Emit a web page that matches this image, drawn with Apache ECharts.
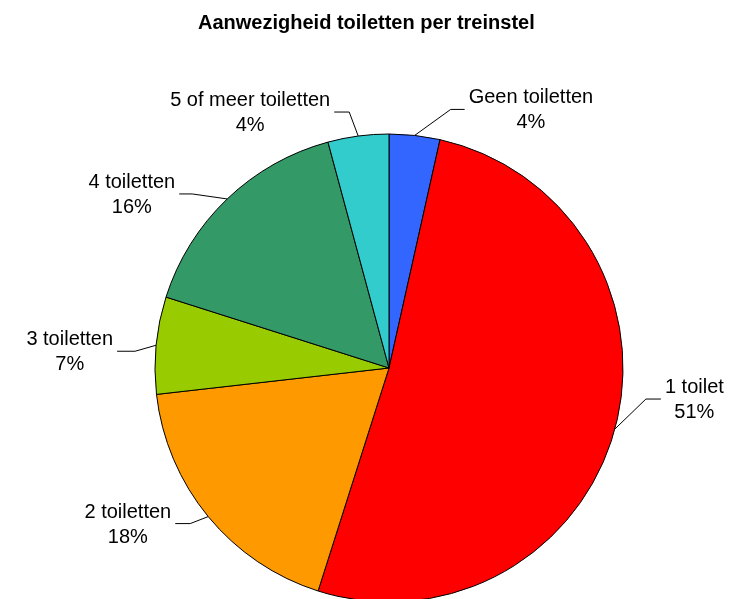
<!DOCTYPE html>
<html>
<head>
<meta charset="utf-8">
<title>Aanwezigheid toiletten per treinstel</title>
<script src="https://cdn.jsdelivr.net/npm/echarts@6/dist/echarts.min.js"></script>
<style>
    html, body { margin: 0; padding: 0; background: #fff; }
    #chart { width: 742px; height: 599px; }
</style>
</head>
<body>
<div id="chart"></div>
<script>
// data (aandeel treinstellen, %)
var categories = ['Geen toiletten', '1 toilet', '2 toiletten', '3 toiletten', '4 toiletten', '5 of meer toiletten'];
var shares = [3.5, 51.4, 18.3, 6.7, 15.9, 4.2];
var colors = ['#3366FF', '#FF0000', '#FF9900', '#99CC00', '#339966', '#33CCCC'];

// leader lines: [dx, dy] to the bend, then horizontal length
var leader = [[36, -26, 14], [31, -30, 15], [-18, 7, 15], [-21, 6, 18], [-35, -5, 13], [-9, -24, 15]];

var cx = 389, cy = 368, radius = 234;

// fallback: point on the arc at the middle of a slice
function fnArcPoint(index) {
    var total = 0, before = 0;
    for (var i = 0; i < shares.length; i++) {
        total += shares[i];
        if (i < index) before += shares[i];
    }
    var mid = (before + shares[index] / 2) / total * Math.PI * 2;
    return [cx + radius * Math.sin(mid), cy - radius * Math.cos(mid)];
}

function fnLabelLayout(params) {
    var i = params.dataIndex;
    var p0 = params.labelLinePoints ? params.labelLinePoints[0] : fnArcPoint(i);
    var l = leader[i];
    var p1 = [p0[0] + l[0], p0[1] + l[1]];
    var side = l[0] < 0 ? -1 : 1;
    var p2 = [p1[0] + side * l[2], p1[1]];
    return {
        x: p2[0] + side * 4,
        y: p2[1] + 1,
        align: side > 0 ? 'left' : 'right',
        verticalAlign: 'middle',
        labelLinePoints: [p0, p1, p2]
    };
}

var seriesData = [];
for (var i = 0; i < categories.length; i++) {
    seriesData.push({
        name: categories[i],
        value: shares[i],
        itemStyle: { color: colors[i] }
    });
}

var myChart = echarts.init(document.getElementById('chart'), null, { renderer: 'canvas' });

var option = {
    animation: false,
    backgroundColor: '#fff',
    title: {
        text: 'Aanwezigheid toiletten per treinstel',
        left: 193,
        top: 8,
        textStyle: {
            fontFamily: 'Liberation Sans, Arial, sans-serif',
            fontSize: 20,
            fontWeight: 'bold',
            color: '#000'
        }
    },
    series: [
        {
            type: 'pie',
            center: [cx, cy],
            radius: radius,
            startAngle: 90,
            clockwise: true,
            avoidLabelOverlap: false,
            data: seriesData,
            itemStyle: {
                borderColor: '#000',
                borderWidth: 1
            },
            label: {
                show: true,
                position: 'outside',
                formatter: function (p) {
                    return '{n|' + p.name + '}\n{n|' + Math.round(p.percent) + '%}';
                },
                rich: {
                    n: {
                        align: 'center',
                        fontFamily: 'Liberation Sans, Arial, sans-serif',
                        fontSize: 20,
                        lineHeight: 25,
                        color: '#000'
                    }
                }
            },
            labelLine: {
                show: true,
                length: 20,
                length2: 15,
                lineStyle: { color: '#000', width: 1 }
            },
            labelLayout: fnLabelLayout,
            emphasis: { disabled: true }
        }
    ]
};

myChart.setOption(option);
</script>
</body>
</html>
